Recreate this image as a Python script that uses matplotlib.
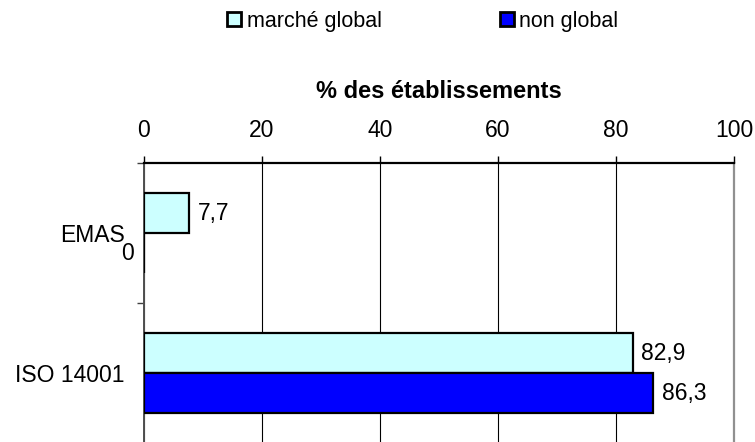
import numpy as np
import matplotlib
matplotlib.use("Agg")
import matplotlib.pyplot as plt
from matplotlib.patches import Patch

plt.rcParams['font.family'] = ['Liberation Sans', 'DejaVu Sans']

# data
categories = ["EMAS", "ISO 14001"]
series_names = ["marché global", "non global"]
marche_global = [7.7, 82.9]
non_global = [0.0, 86.3]
x_ticks = [0, 20, 40, 60, 80, 100]

light = "#CCFFFF"
dark = "#0000FF"

fig = plt.figure(figsize=(7.55, 4.42), dpi=100)
ax = fig.add_axes([0.1907, -0.0023, 0.7815, 0.6335])

y = np.arange(len(categories))
h = 0.2857
bars1 = ax.barh(y - h / 2, marche_global, height=h, color=light,
                edgecolor="black", linewidth=1.6, zorder=3)
bars2 = ax.barh(y + h / 2, non_global, height=h, color=dark,
                edgecolor="black", linewidth=1.6, zorder=3)

# value labels, french decimal comma
for bars, vals in ((bars1, marche_global), (bars2, non_global)):
    for b, v in zip(bars, vals):
        yc = b.get_y() + b.get_height() / 2
        txt = f"{v:.1f}".replace(".", ",") if v != 0 else "0"
        if v == 0:
            ax.annotate(txt, (v, yc), xytext=(-7, 0), textcoords="offset points",
                        ha="right", va="center", fontsize=16.5)
        else:
            ax.annotate(txt, (v, yc), xytext=(6, 0), textcoords="offset points",
                        ha="left", va="center", fontsize=16.5)

ax.set_xlim(0, 100)
ax.set_ylim(len(categories) - 0.5, -0.5)

ax.xaxis.tick_top()
ax.xaxis.set_label_position("top")
ax.set_xticks(x_ticks)
ax.tick_params(axis="x", direction="out", length=5, width=1, labelsize=16.5, pad=10)
ax.set_xlabel("% des établissements", fontsize=17, fontweight="bold", labelpad=15)

ax.set_yticks(y)
ax.set_yticklabels(categories)
ax.set_yticks(np.arange(-0.5, len(categories), 1.0), minor=True)
ax.tick_params(axis="y", which="major", length=0, labelsize=16.5, pad=14)
ax.tick_params(axis="y", which="minor", direction="out", length=5, width=1, color="#404040")

ax.grid(axis="x", color="black", linewidth=0.8, zorder=0)
ax.set_axisbelow(True)

ax.spines["bottom"].set_visible(False)
ax.spines["top"].set_color("black")
ax.spines["top"].set_linewidth(1.6)
ax.spines["left"].set_color("#505050")
ax.spines["left"].set_linewidth(1.4)
ax.spines["right"].set_color("#909090")
ax.spines["right"].set_linewidth(1.6)

handles = [Patch(facecolor=light, edgecolor="black", linewidth=2),
           Patch(facecolor=dark, edgecolor="black", linewidth=2)]
fig.legend(handles, series_names, loc="center", bbox_to_anchor=(0.56, 0.952),
           ncol=2, frameon=False, fontsize=15.5, handlelength=0.65, handleheight=0.65,
           handletextpad=0.25, columnspacing=5.5)

fig.savefig("out.png", dpi=100)
